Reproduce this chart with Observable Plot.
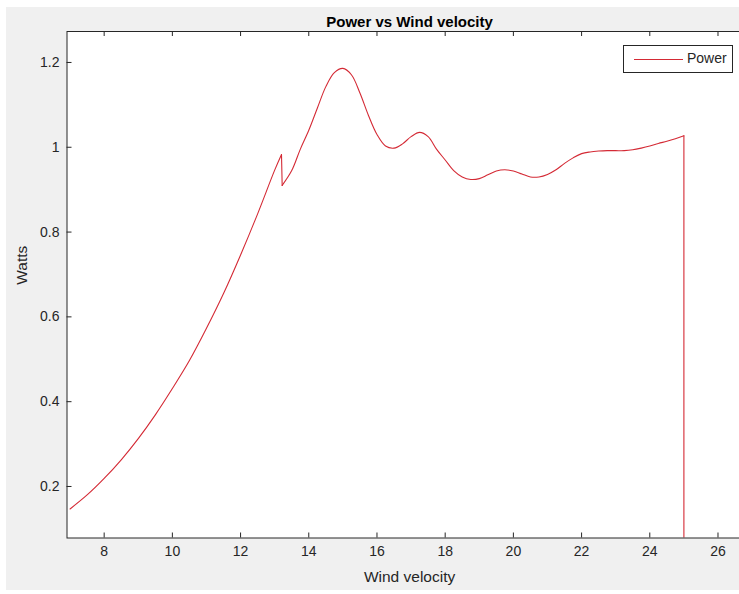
<!DOCTYPE html>
<html><head><meta charset="utf-8">
<script src="https://cdn.jsdelivr.net/npm/d3@7"></script>
<script src="https://cdn.jsdelivr.net/npm/@observablehq/plot@0.6"></script>
<style>
html,body{margin:0;padding:0;background:#fff;}
#wrap{position:relative;width:739px;height:594px;overflow:hidden;font-family:"Liberation Sans",Arial,sans-serif;}
#bg{position:absolute;left:6px;top:7px;right:0;bottom:4px;background:#f0f0f0;}
#chart{position:absolute;left:0;top:0;}
#chart svg{overflow:hidden;}
#legend{position:absolute;left:623px;top:45px;width:108px;height:26px;border:1px solid #262626;background:#fff;}
#legend .sw{position:absolute;left:10px;top:13px;width:49px;border-top:1px solid #d42a35;}
#legend .lt{position:absolute;left:63px;top:4px;font-size:14px;color:#262626;}
</style></head><body>
<div id="wrap"><div id="bg"></div><div id="chart"></div><div id="legend"><span class="sw"></span><span class="lt" id="legendText"></span></div></div>
<script>
const windVelocity = [7.0, 7.5, 8.0, 8.5, 9.0, 9.5, 10.0, 10.5, 11.0, 11.5, 12.0, 12.5, 13.0, 13.2, 13.22,
  13.5, 13.75, 14.0, 14.25, 14.5, 14.75, 15.0, 15.25, 15.5, 15.75, 16.0, 16.25, 16.5, 16.75,
  17.0, 17.25, 17.5, 17.75, 18.0, 18.25, 18.5, 18.75, 19.0, 19.25, 19.5, 19.75, 20.0, 20.25,
  20.5, 20.75, 21.0, 21.25, 21.5, 21.75, 22.0, 22.25, 22.5, 22.75, 23.0, 23.25, 23.5, 23.75,
  24.0, 24.25, 24.5, 24.75, 25.0, 25.0];
const power = [0.147, 0.180, 0.219, 0.263, 0.313, 0.369, 0.431, 0.497, 0.573, 0.655, 0.746, 0.843, 0.946, 0.983, 0.910,
  0.945, 0.995, 1.040, 1.092, 1.143, 1.176, 1.186, 1.171, 1.128, 1.075, 1.030, 1.003, 0.998, 1.008,
  1.025, 1.035, 1.025, 0.995, 0.970, 0.945, 0.930, 0.924, 0.926, 0.935, 0.944, 0.947, 0.944, 0.937,
  0.930, 0.930, 0.936, 0.947, 0.962, 0.975, 0.985, 0.989, 0.991, 0.992, 0.992, 0.992, 0.994, 0.998,
  1.003, 1.009, 1.014, 1.020, 1.027, 0.0];
const xTicks = [8, 10, 12, 14, 16, 18, 20, 22, 24, 26];
const yTicks = [0.2, 0.4, 0.6, 0.8, 1.0, 1.2];
const yTickLabels = ["0.2", "0.4", "0.6", "0.8", "1", "1.2"];
const titleText = "Power vs Wind velocity";
const xLabel = "Wind velocity";
const yLabel = "Watts";
const seriesName = "Power";

const data = windVelocity.map((v, i) => ({v, p: power[i]}));
// the sharp jump (index 13 -> 14) and the final drop (last two points) are straight segments
const jumpAt = 13;
const n = data.length;
const smooth1 = data.slice(0, jumpAt + 1);
const jump = data.slice(jumpAt, jumpAt + 2);
const smooth2 = data.slice(jumpAt + 1, n - 1);
const drop = data.slice(n - 2);

const axisColor = "#262626";
const lineColor = "#d42a35";
const mL = 66.5, mR = -12.6, mT = 31, mB = 56.5, W = 739, H = 594;
const frameW = W - mL - mR, frameH = H - mT - mB;

document.getElementById("legendText").textContent = seriesName;

const lineOpts = {x: "v", y: "p", stroke: lineColor, strokeWidth: 1.1, clip: true};

const chart = Plot.plot({
  width: W, height: H,
  marginLeft: mL, marginRight: mR, marginTop: mT, marginBottom: mB,
  style: {background: "transparent", fontFamily: "'Liberation Sans', Arial, sans-serif", fontSize: "14px", color: axisColor},
  x: {domain: [6.91, 27], axis: null},
  y: {domain: [0.0785, 1.273], axis: null},
  marks: [
    Plot.frame({fill: "white", stroke: "none"}),
    Plot.line(smooth1, {...lineOpts, curve: "catmull-rom"}),
    Plot.line(jump, {...lineOpts, curve: "linear"}),
    Plot.line(smooth2, {...lineOpts, curve: "catmull-rom"}),
    Plot.line(drop, {...lineOpts, curve: "linear"}),
    Plot.tickX(xTicks, {x: d => d, insetTop: frameH - 5, stroke: axisColor}),
    Plot.tickX(xTicks, {x: d => d, insetBottom: frameH - 5, stroke: axisColor}),
    Plot.tickY(yTicks, {y: d => d, insetRight: frameW - 5, stroke: axisColor}),
    Plot.frame({stroke: axisColor, fill: "none"}),
    Plot.text(xTicks, {x: d => d, frameAnchor: "bottom", dy: 18, text: d => String(d), fill: axisColor}),
    Plot.text(yTicks, {y: d => d, frameAnchor: "left", dx: -7.5, textAnchor: "end", text: (d, i) => yTickLabels[i], fill: axisColor}),
    Plot.text([xLabel], {frameAnchor: "bottom", dy: 43.5, text: d => d, fontSize: 15.5, fill: axisColor}),
    Plot.text([yLabel], {frameAnchor: "left", dx: -44.5, rotate: -90, text: d => d, fontSize: 15.5, fill: axisColor}),
    Plot.text([titleText], {frameAnchor: "top", dy: -15, text: d => d, fontWeight: "bold", fontSize: 15, fill: "#000"})
  ]
});
document.getElementById("chart").appendChild(chart);
</script>
</body></html>
